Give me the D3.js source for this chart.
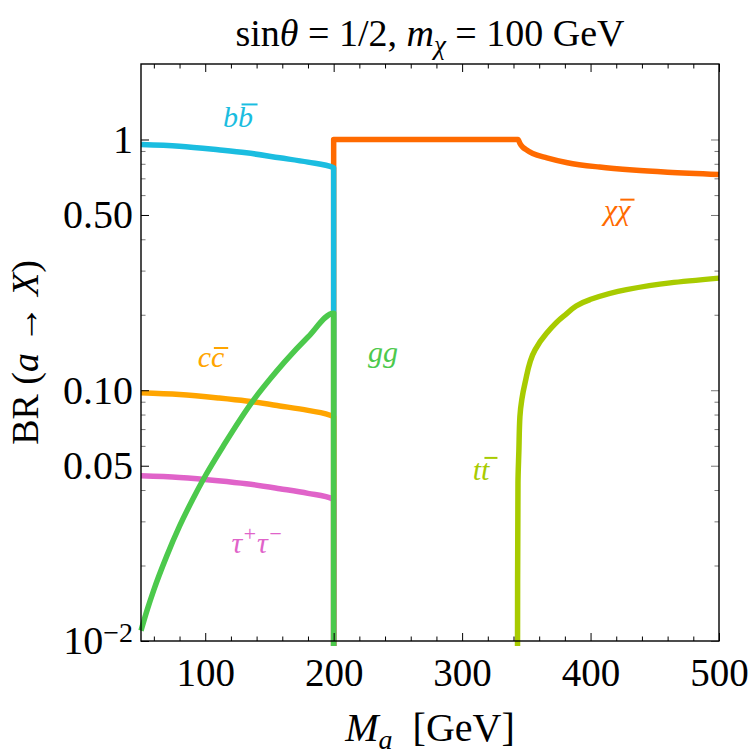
<!DOCTYPE html>
<html lang="en">
<head>
<meta charset="utf-8">
<title>BR(a → X)</title>
<script src="https://cdn.jsdelivr.net/npm/d3@7"></script>
<style>
  body { margin: 0; background: #fff; }
  text { font-family: "Liberation Serif", "DejaVu Serif", serif; fill: #000; }
  .it { font-style: italic; }
</style>
</head>
<body>
<div id="chart"></div>
<script>
// branching ratios (sin theta = 1/2, m_chi = 100 GeV)
// a value of 0.001 means the channel drops out of the plot range
var chiMass = [200, 200, 260, 343.5, 345, 347, 350, 355, 366, 382, 407, 433, 460, 500];
var chiBR   = [0.001, 1.0, 1.0, 1.0, 0.965, 0.935, 0.91, 0.88, 0.845, 0.808, 0.776, 0.755, 0.74, 0.725];

var bbMass = [50, 80, 110, 132, 158, 180, 200, 200];
var bbBR   = [0.955, 0.940, 0.910, 0.885, 0.845, 0.812, 0.771, 0.001];

var ccMass = [50, 80, 110, 132, 158, 180, 200, 200];
var ccBR   = [0.0978, 0.0962, 0.0932, 0.0906, 0.0866, 0.0831, 0.0785, 0.001];

var tauMass = [50, 80, 110, 132, 158, 180, 200, 200];
var tauBR   = [0.0456, 0.0449, 0.0436, 0.0424, 0.0405, 0.0388, 0.0367, 0.001];

var ggMass = [50, 55, 60, 70, 80, 90, 100, 115, 137, 150, 162, 180, 200, 200];
var ggBR   = [0.0110, 0.0134, 0.0160, 0.0218, 0.0287, 0.0365, 0.0455, 0.061, 0.0905, 0.110, 0.130, 0.163, 0.203, 0.001];

var ttMass = [343.1, 343.2, 343.5, 344.2, 345, 346.5, 349, 356.8, 365.9, 378.8, 399.6, 428, 461.9, 500];
var ttBR   = [0.005, 0.017, 0.0426, 0.0575, 0.0785, 0.092, 0.107, 0.145, 0.169, 0.197, 0.230, 0.252, 0.268, 0.280];

var massRange = [50, 500];
var brRange = [0.01, 2];
var xMajor = [100, 200, 300, 400, 500];
var xMinor = [60, 80, 120, 140, 160, 180, 220, 240, 260, 280, 320, 340, 360, 380, 420, 440, 460, 480];
var yMajor = [0.01, 0.05, 0.1, 0.5, 1];
var yMajorText = ["10", "0.05", "0.10", "0.50", "1"];
var yMinor = [0.02, 0.03, 0.04, 0.06, 0.07, 0.08, 0.09, 0.2, 0.3, 0.4, 0.6, 0.7, 0.8, 0.9];

var width = 750, height = 755;
var pLeft = 141, pRight = 719, pTop = 64, pBottom = 641;

var svg = d3.select("#chart").append("svg")
    .attr("width", width)
    .attr("height", height);

var x = d3.scaleLinear().domain(massRange).range([pLeft, pRight]);
var y = d3.scaleLog().domain(brRange).range([pBottom, pTop]);

function zip(a, b) {
    return a.map(function (v, i) { return [v, b[i]]; });
}

var series = [
    {name: "chi", color: "#ff6a00", pts: zip(chiMass, chiBR), curve: d3.curveMonotoneX},
    {name: "bb", color: "#1bbde0", pts: zip(bbMass, bbBR), curve: d3.curveMonotoneX},
    {name: "cc", color: "#ffa500", pts: zip(ccMass, ccBR), curve: d3.curveMonotoneX},
    {name: "tau", color: "#e063c9", pts: zip(tauMass, tauBR), curve: d3.curveMonotoneX},
    {name: "gg", color: "#4cc94c", pts: zip(ggMass, ggBR), curve: d3.curveMonotoneX},
    {name: "tt", color: "#a8cb00", pts: zip(ttMass, ttBR), curve: d3.curveMonotoneY}
];

svg.append("clipPath").attr("id", "clip")
  .append("rect")
    .attr("x", pLeft - 3).attr("y", pTop)
    .attr("width", pRight - pLeft + 6).attr("height", pBottom - pTop + 5);

svg.append("g")
    .attr("clip-path", "url(#clip)")
  .selectAll("path")
  .data(series)
  .enter().append("path")
    .attr("d", function (d) {
        return d3.line()
            .x(function (p) { return x(p[0]); })
            .y(function (p) { return y(p[1]); })
            .curve(d.curve)(d.pts);
    })
    .attr("fill", "none")
    .attr("stroke", function (d) { return d.color; })
    .attr("stroke-width", 5.5)
    .attr("stroke-linejoin", "round");

// ticks on all four sides, pointing inward
function drawTicks(axis, transform, labels) {
    var g = svg.append("g").attr("transform", transform).call(axis);
    g.select(".domain").remove();
    if (!labels) g.selectAll("text").remove();
    return g;
}

drawTicks(d3.axisBottom(x).tickValues(xMinor).tickSize(-4.5).tickSizeOuter(0), "translate(0," + pBottom + ")", false);
drawTicks(d3.axisTop(x).tickValues(xMinor).tickSize(-4.5).tickSizeOuter(0), "translate(0," + pTop + ")", false);
drawTicks(d3.axisTop(x).tickValues(xMajor).tickSize(-8).tickSizeOuter(0), "translate(0," + pTop + ")", false);
var xg = drawTicks(d3.axisBottom(x).tickValues(xMajor).tickSize(-8).tickSizeOuter(0).tickPadding(17), "translate(0," + pBottom + ")", true);
xg.selectAll("text").attr("font-size", 39).attr("font-family", "Liberation Serif");

drawTicks(d3.axisLeft(y).tickValues(yMinor).tickSize(-4.5).tickSizeOuter(0), "translate(" + pLeft + ",0)", false)
    .selectAll("line").attr("stroke", "#777");
drawTicks(d3.axisRight(y).tickValues(yMinor).tickSize(-4.5).tickSizeOuter(0), "translate(" + pRight + ",0)", false)
    .selectAll("line").attr("stroke", "#777");
drawTicks(d3.axisRight(y).tickValues(yMajor).tickSize(-8).tickSizeOuter(0), "translate(" + pRight + ",0)", false)
    .selectAll("line").attr("stroke", "#777");
var yg = drawTicks(d3.axisLeft(y).tickValues(yMajor).tickSize(-8).tickSizeOuter(0).tickPadding(8)
        .tickFormat(function (d, i) { return yMajorText[i]; }), "translate(" + pLeft + ",0)", true);
yg.selectAll("text").attr("font-size", 40).attr("font-family", "Liberation Serif");
yg.selectAll("text").filter(function (d) { return d === 0.01; })
  .append("tspan").attr("dy", "-0.45em").attr("font-size", 28).text("\u22122");

svg.append("rect")
    .attr("x", pLeft).attr("y", pTop)
    .attr("width", pRight - pLeft).attr("height", pBottom - pTop)
    .attr("fill", "none")
    .attr("stroke", "#000")
    .attr("stroke-width", 1.4);

// title
var title = svg.append("text")
    .attr("x", (pLeft + pRight) / 2).attr("y", 46)
    .attr("text-anchor", "middle")
    .attr("font-size", 38);
title.append("tspan").text("sin");
title.append("tspan").attr("class", "it").text("\u03b8");
title.append("tspan").text(" = 1/2, ");
title.append("tspan").attr("class", "it").text("m");
title.append("tspan").attr("class", "it").attr("font-size", 27).attr("dy", 8).text("\u03c7");
title.append("tspan").attr("dy", -8).text(" = 100 GeV");

// axis titles
var xt = svg.append("text")
    .attr("x", (pLeft + pRight) / 2).attr("y", 741)
    .attr("text-anchor", "middle")
    .attr("font-size", 40);
xt.append("tspan").attr("class", "it").text("M");
xt.append("tspan").attr("class", "it").attr("font-size", 28).attr("dy", 8).text("a");
xt.append("tspan").attr("dy", -8).text("\u00a0 [GeV]");

var yt = svg.append("text")
    .attr("transform", "translate(38," + (pTop + pBottom) / 2 + ") rotate(-90)")
    .attr("text-anchor", "middle")
    .attr("font-size", 38);
yt.append("tspan").text("BR (");
yt.append("tspan").attr("class", "it").text("a");
yt.append("tspan").text(" \u2192 ");
yt.append("tspan").attr("class", "it").text("X");
yt.append("tspan").text(")");

// channel labels, anchored in data coordinates; "ovl" parts get a bar on top
var labels = [
    {parts: [["b", ""], ["b", "ovl"]], mass: 125.6, br: 1.117, color: "#1bbde0", bar: 23},
    {parts: [["\u03c7", ""], ["\u03c7", "ovl"]], mass: 420.8, br: 0.479, color: "#ff6a00", bar: 20},
    {parts: [["c", ""], ["c", "ovl"]], mass: 104.5, br: 0.1238, color: "#ffa500", bar: 19},
    {parts: [["gg", ""]], mass: 238.5, br: 0.1297, color: "#4cc94c", bar: 0},
    {parts: [["\u03c4", ""], ["+", "sup"], ["\u03c4", ""], ["\u2212", "sup"]], mass: 140.4, br: 0.0224, color: "#e063c9", bar: 0},
    {parts: [["t", ""], ["t", "ovl"]], mass: 314.8, br: 0.0439, color: "#a8cb00", bar: 22}
];

labels.forEach(function (l) {
    var t = svg.append("text")
        .attr("x", x(l.mass)).attr("y", y(l.br))
        .attr("text-anchor", "middle")
        .attr("font-size", 30)
        .attr("class", "it")
        .style("fill", l.color);
    var shifted = false, bars = [], idx = 0;
    l.parts.forEach(function (p) {
        var s = t.append("tspan").text(p[0]);
        if (p[1] === "ovl") bars.push(idx);
        if (p[1] === "sup") { s.attr("dy", -12).attr("font-size", 22); shifted = true; }
        else if (shifted) { s.attr("dy", 12); shifted = false; }
        idx += p[0].length;
    });
    var node = t.node(),
        start = x(l.mass) - node.getComputedTextLength() / 2;
    bars.forEach(function (i) {
        var x1 = start + node.getSubStringLength(0, i) + l.bar * 0.15,
            w = Math.max(node.getSubStringLength(i, 1), 12);
        svg.append("line")
            .attr("x1", x1).attr("x2", x1 + w + 1)
            .attr("y1", y(l.br) - l.bar).attr("y2", y(l.br) - l.bar)
            .attr("stroke", l.color)
            .attr("stroke-width", 2);
    });
});
</script>
</body>
</html>
